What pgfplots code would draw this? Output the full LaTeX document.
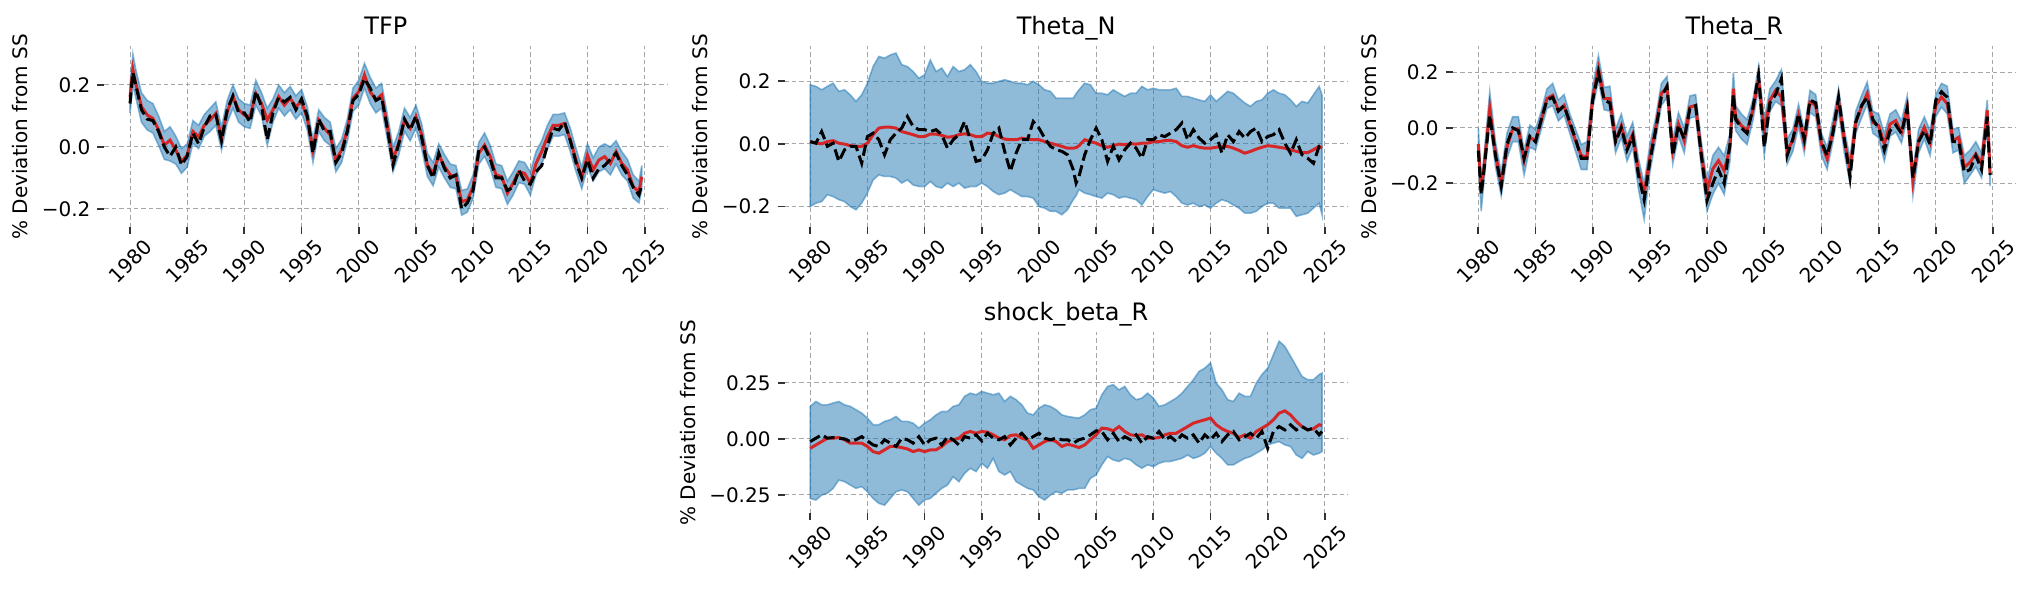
\documentclass[border=0pt]{standalone}
\usepackage{fontspec}
\setmainfont{DejaVu Sans}
\usepackage{pgfplots}
\pgfplotsset{compat=1.18}
\usepackage{pgfplotstable}
\definecolor{C0}{HTML}{1F77B4}
\definecolor{C3}{HTML}{D62728}

% ---------- TFP ----------
\pgfplotstableread{
t y
1980.0 0.20
1980.25 0.30
1980.5 0.25
1981.0 0.175
1981.5 0.15
1982.0 0.14
1982.5 0.10
1983.0 0.05
1983.5 0.065
1984.0 0.035
1984.5 -0.005
1985.0 0.01
1985.5 0.085
1986.0 0.07
1986.5 0.105
1987.0 0.125
1987.5 0.145
1988.0 0.065
1988.5 0.15
1989.0 0.20
1989.5 0.155
1990.0 0.14
1990.5 0.135
1991.0 0.215
1991.5 0.175
1992.0 0.125
1992.5 0.155
1993.0 0.20
1993.5 0.175
1994.0 0.195
1994.5 0.165
1995.0 0.185
1995.5 0.13
1996.0 0.025
1996.5 0.12
1997.0 0.095
1997.5 0.08
1998.0 -0.005
1998.5 0.025
1999.0 0.09
1999.5 0.19
2000.0 0.215
2000.5 0.27
2001.0 0.225
2001.5 0.19
2002.0 0.205
2002.5 0.105
2003.0 0.0
2003.5 0.05
2004.0 0.125
2004.5 0.095
2005.0 0.135
2005.5 0.075
2006.0 -0.02
2006.5 -0.05
2007.0 0.01
2007.5 -0.025
2008.0 -0.055
2008.5 -0.06
2009.0 -0.14
2009.5 -0.135
2010.0 -0.09
2010.5 0.015
2011.0 0.045
2011.5 0.005
2012.0 -0.055
2012.5 -0.06
2013.0 -0.11
2013.5 -0.08
2014.0 -0.045
2014.5 -0.05
2015.0 -0.08
2015.5 -0.015
2016.0 0.02
2016.5 0.07
2017.0 0.105
2017.5 0.105
2018.0 0.11
2018.5 0.06
2019.0 -0.005
2019.5 -0.065
2020.0 0.01
2020.5 -0.035
2021.0 0.0
2021.5 0.01
2022.0 0.0
2022.5 0.02
2023.0 -0.015
2023.5 -0.04
2024.0 -0.09
2024.5 -0.11
2024.75 -0.06
2024.75 -0.14
2024.5 -0.18
2024.0 -0.165
2023.5 -0.11
2023.0 -0.09
2022.5 -0.055
2022.0 -0.09
2021.5 -0.07
2021.0 -0.08
2020.5 -0.11
2020.0 -0.065
2019.5 -0.135
2019.0 -0.08
2018.5 -0.015
2018.0 0.04
2017.5 0.035
2017.0 0.035
2016.5 -0.005
2016.0 -0.055
2015.5 -0.09
2015.0 -0.155
2014.5 -0.12
2014.0 -0.115
2013.5 -0.155
2013.0 -0.185
2012.5 -0.135
2012.0 -0.13
2011.5 -0.07
2011.0 -0.03
2010.5 -0.055
2010.0 -0.165
2009.5 -0.21
2009.0 -0.22
2008.5 -0.135
2008.0 -0.13
2007.5 -0.10
2007.0 -0.065
2006.5 -0.125
2006.0 -0.095
2005.5 -0.005
2005.0 0.06
2004.5 0.02
2004.0 0.05
2003.5 -0.025
2003.0 -0.08
2002.5 0.025
2002.0 0.125
2001.5 0.11
2001.0 0.14
2000.5 0.19
2000.0 0.135
1999.5 0.115
1999.0 0.018
1998.5 -0.05
1998.0 -0.08
1997.5 0.005
1997.0 0.02
1996.5 0.05
1996.0 -0.05
1995.5 0.055
1995.0 0.11
1994.5 0.09
1994.0 0.12
1993.5 0.10
1993.0 0.125
1992.5 0.08
1992.0 0.005
1991.5 0.10
1991.0 0.135
1990.5 0.06
1990.0 0.065
1989.5 0.08
1989.0 0.125
1988.5 0.078
1988.0 -0.01
1987.5 0.07
1987.0 0.05
1986.5 0.035
1986.0 -0.005
1985.5 0.012
1985.0 -0.065
1984.5 -0.085
1984.0 -0.055
1983.5 -0.045
1983.0 -0.04
1982.5 0.005
1982.0 0.045
1981.5 0.055
1981.0 0.08
1980.5 0.16
1980.25 0.20
1980.0 0.11
}\tfpband

\pgfplotstableread{
t m d
1980.0 0.16 0.14
1980.25 0.25 0.24
1980.5 0.205 0.20
1981.0 0.13 0.12
1981.5 0.103 0.09
1982.0 0.092 0.085
1982.5 0.055 0.05
1983.0 0.006 0.0
1983.5 0.022 -0.03
1984.0 -0.01 0.0
1984.5 -0.047 -0.058
1985.0 -0.026 -0.03
1985.5 0.05 0.045
1986.0 0.033 0.01
1986.5 0.07 0.065
1987.0 0.087 0.10
1987.5 0.108 0.105
1988.0 0.028 0.02
1988.5 0.114 0.12
1989.0 0.162 0.165
1989.5 0.12 0.11
1990.0 0.103 0.11
1990.5 0.098 0.08
1991.0 0.173 0.18
1991.5 0.14 0.13
1992.0 0.087 0.023
1992.5 0.12 0.11
1993.0 0.162 0.16
1993.5 0.135 0.145
1994.0 0.157 0.16
1994.5 0.13 0.12
1995.0 0.146 0.155
1995.5 0.092 0.10
1996.0 -0.01 -0.02
1996.5 0.087 0.09
1997.0 0.06 0.05
1997.5 0.039 0.05
1998.0 -0.042 -0.05
1998.5 -0.01 -0.02
1999.0 0.055 0.05
1999.5 0.157 0.15
2000.0 0.178 0.17
2000.5 0.232 0.22
2001.0 0.178 0.19
2001.5 0.152 0.15
2002.0 0.168 0.16
2002.5 0.066 0.06
2003.0 -0.04 -0.058
2003.5 0.012 0.01
2004.0 0.087 0.09
2004.5 0.06 0.055
2005.0 0.098 0.10
2005.5 0.039 0.03
2006.0 -0.058 -0.06
2006.5 -0.085 -0.10
2007.0 -0.026 -0.02
2007.5 -0.063 -0.07
2008.0 -0.09 -0.10
2008.5 -0.096 -0.09
2009.0 -0.176 -0.20
2009.5 -0.171 -0.18
2010.0 -0.128 -0.14
2010.5 -0.02 -0.01
2011.0 0.006 0.0
2011.5 -0.031 -0.04
2012.0 -0.09 -0.10
2012.5 -0.096 -0.10
2013.0 -0.149 -0.14
2013.5 -0.117 -0.13
2014.0 -0.08 -0.075
2014.5 -0.085 -0.11
2015.0 -0.117 -0.12
2015.5 -0.053 -0.08
2016.0 -0.015 -0.06
2016.5 0.033 0.005
2017.0 0.07 0.06
2017.5 0.07 0.055
2018.0 0.076 0.08
2018.5 0.023 0.02
2019.0 -0.042 -0.05
2019.5 -0.10 -0.10
2020.0 -0.026 -0.04
2020.5 -0.074 -0.10
2021.0 -0.042 -0.07
2021.5 -0.031 -0.06
2022.0 -0.053 -0.04
2022.5 -0.015 -0.02
2023.0 -0.053 -0.06
2023.5 -0.074 -0.09
2024.0 -0.128 -0.13
2024.5 -0.144 -0.155
2024.75 -0.096 -0.12
}\tfpline

% ---------- Theta_N ----------
\pgfplotstableread{
t y
1980.0 0.188
1980.5 0.183
1981.0 0.172
1981.5 0.183
1982.0 0.193
1982.5 0.167
1983.0 0.172
1983.5 0.156
1984.0 0.135
1984.5 0.156
1985.0 0.193
1985.5 0.246
1986.0 0.278
1986.5 0.273
1987.0 0.283
1987.5 0.289
1988.0 0.252
1988.5 0.246
1989.0 0.230
1989.5 0.209
1990.0 0.220
1990.5 0.267
1991.0 0.230
1991.5 0.241
1992.0 0.214
1992.5 0.246
1993.0 0.230
1993.5 0.236
1994.0 0.252
1994.5 0.230
1995.0 0.199
1995.5 0.193
1996.0 0.193
1996.5 0.199
1997.0 0.204
1997.5 0.199
1998.0 0.193
1998.5 0.193
1999.0 0.188
1999.5 0.199
2000.0 0.188
2000.5 0.172
2001.0 0.167
2001.5 0.145
2002.0 0.145
2002.5 0.145
2003.0 0.145
2003.25 0.160
2003.5 0.172
2004.0 0.193
2004.5 0.188
2005.0 0.161
2005.5 0.161
2006.0 0.156
2006.5 0.172
2007.0 0.161
2007.5 0.151
2008.0 0.161
2008.5 0.161
2009.0 0.183
2009.5 0.172
2010.0 0.177
2010.5 0.172
2011.0 0.172
2011.5 0.172
2012.0 0.177
2012.5 0.151
2013.0 0.151
2013.5 0.145
2014.0 0.140
2014.5 0.135
2015.0 0.156
2015.5 0.135
2016.0 0.151
2016.5 0.167
2017.0 0.161
2017.5 0.145
2018.0 0.130
2018.5 0.119
2019.0 0.135
2019.5 0.140
2020.0 0.161
2020.5 0.172
2021.0 0.161
2021.5 0.156
2022.0 0.140
2022.5 0.119
2023.0 0.135
2023.5 0.130
2024.0 0.156
2024.5 0.183
2024.75 0.156
2024.75 -0.226
2024.5 -0.189
2024.0 -0.205
2023.5 -0.221
2023.0 -0.226
2022.5 -0.231
2022.0 -0.205
2021.5 -0.205
2021.0 -0.205
2020.5 -0.189
2020.0 -0.189
2019.5 -0.200
2019.0 -0.215
2018.5 -0.221
2018.0 -0.221
2017.5 -0.205
2017.0 -0.195
2016.5 -0.184
2016.0 -0.178
2015.5 -0.189
2015.0 -0.205
2014.5 -0.195
2014.0 -0.200
2013.5 -0.189
2013.0 -0.195
2012.5 -0.189
2012.0 -0.168
2011.5 -0.152
2011.0 -0.157
2010.5 -0.152
2010.0 -0.146
2009.5 -0.168
2009.0 -0.195
2008.5 -0.178
2008.0 -0.173
2007.5 -0.168
2007.0 -0.173
2006.5 -0.162
2006.0 -0.157
2005.5 -0.173
2005.0 -0.168
2004.5 -0.162
2004.0 -0.157
2003.5 -0.146
2003.25 -0.165
2003.0 -0.178
2002.5 -0.210
2002.0 -0.226
2001.5 -0.215
2001.0 -0.215
2000.5 -0.205
2000.0 -0.200
1999.5 -0.173
1999.0 -0.168
1998.5 -0.168
1998.0 -0.157
1997.5 -0.146
1997.0 -0.157
1996.5 -0.162
1996.0 -0.152
1995.5 -0.136
1995.0 -0.125
1994.5 -0.136
1994.0 -0.136
1993.5 -0.141
1993.0 -0.125
1992.5 -0.136
1992.0 -0.125
1991.5 -0.141
1991.0 -0.136
1990.5 -0.120
1990.0 -0.136
1989.5 -0.136
1989.0 -0.131
1988.5 -0.115
1988.0 -0.125
1987.5 -0.109
1987.0 -0.104
1986.5 -0.104
1986.0 -0.099
1985.5 -0.115
1985.0 -0.157
1984.5 -0.189
1984.0 -0.210
1983.5 -0.200
1983.0 -0.184
1982.5 -0.178
1982.0 -0.168
1981.5 -0.162
1981.0 -0.184
1980.5 -0.189
1980.0 -0.200
}\thetanband

\pgfplotstableread{
t m d
1980.0 0.007 0.007
1980.5 0.002 0.002
1981.0 0.000 0.039
1981.5 0.007 -0.008
1982.0 0.010 0.002
1982.5 0.002 -0.056
1983.0 -0.001 -0.019
1983.5 -0.006 -0.008
1984.0 -0.008 -0.008
1984.5 -0.008 -0.062
1985.0 0.002 0.023
1985.5 0.029 0.034
1986.0 0.050 0.013
1986.5 0.053 -0.035
1987.0 0.053 0.013
1987.5 0.050 0.034
1988.0 0.039 0.050
1988.5 0.034 0.087
1989.0 0.029 0.055
1989.5 0.023 0.045
1990.0 0.023 0.045
1990.5 0.031 0.039
1991.0 0.031 0.045
1991.5 0.027 0.029
1992.0 0.021 -0.014
1992.5 0.023 0.013
1993.0 0.029 0.029
1993.5 0.032 0.071
1994.0 0.029 0.013
1994.5 0.023 -0.056
1995.0 0.023 -0.051
1995.5 0.034 -0.019
1996.0 0.032 0.034
1996.5 0.023 0.050
1997.0 0.015 -0.024
1997.5 0.013 -0.088
1998.0 0.013 -0.030
1998.5 0.018 0.013
1999.0 0.015 0.013
1999.5 0.013 0.071
2000.0 0.013 0.050
2000.5 0.007 0.018
2001.0 0.002 -0.008
2001.5 -0.003 -0.019
2002.0 -0.008 -0.024
2002.5 -0.014 -0.035
2003.0 -0.014 -0.083
2003.25 -0.012 -0.125
2003.5 -0.006 -0.104
2004.0 0.013 -0.035
2004.5 0.007 0.013
2005.0 0.002 0.050
2005.5 -0.006 0.013
2006.0 -0.011 -0.056
2006.5 -0.006 -0.008
2007.0 -0.001 -0.051
2007.5 -0.003 -0.019
2008.0 0.000 0.002
2008.5 -0.001 -0.014
2009.0 0.002 -0.046
2009.5 0.002 0.013
2010.0 0.007 0.013
2010.5 0.007 0.029
2011.0 0.010 0.023
2011.5 0.011 0.034
2012.0 0.007 0.045
2012.5 -0.006 0.066
2013.0 -0.011 0.013
2013.5 -0.006 0.045
2014.0 -0.011 0.018
2014.5 -0.014 0.002
2015.0 -0.014 0.013
2015.5 -0.011 0.029
2016.0 -0.008 -0.030
2016.5 -0.008 0.029
2017.0 -0.014 0.007
2017.5 -0.021 0.039
2018.0 -0.030 0.018
2018.5 -0.024 0.039
2019.0 -0.017 0.050
2019.5 -0.011 0.007
2020.0 -0.006 0.023
2020.5 -0.008 0.029
2021.0 -0.011 0.045
2021.5 -0.014 0.002
2022.0 -0.019 -0.030
2022.5 -0.024 0.013
2023.0 -0.028 -0.035
2023.5 -0.028 -0.046
2024.0 -0.019 -0.062
2024.5 -0.008 -0.008
2024.75 -0.014 -0.003
}\thetanline

% ---------- Theta_R ----------
\pgfplotstableread{
t y
1980.0 0.0
1980.25 -0.19
1980.5 -0.10
1981.0 0.13
1981.5 -0.05
1982.0 -0.16
1982.5 -0.02
1983.0 0.04
1983.5 0.04
1984.0 -0.08
1984.5 0.01
1985.0 -0.005
1985.5 0.06
1986.0 0.14
1986.5 0.16
1987.0 0.10
1987.5 0.12
1988.0 0.05
1988.5 -0.005
1989.0 -0.06
1989.5 -0.05
1990.0 0.15
1990.5 0.26
1991.0 0.145
1991.5 0.15
1992.0 -0.005
1992.5 0.05
1993.0 -0.03
1993.5 0.02
1994.0 -0.11
1994.5 -0.20
1995.0 -0.06
1995.5 0.035
1996.0 0.16
1996.5 0.185
1997.0 -0.04
1997.5 0.055
1998.0 0.0
1998.5 0.115
1999.0 0.12
1999.5 -0.05
2000.0 -0.19
2000.5 -0.10
2001.0 -0.07
2001.5 -0.10
2002.0 -0.02
2002.3 0.20
2002.5 0.08
2003.0 0.05
2003.5 0.03
2004.0 0.10
2004.5 0.22
2005.0 0.03
2005.5 0.14
2006.0 0.17
2006.5 0.21
2007.0 -0.04
2007.5 -0.005
2008.0 0.085
2008.5 -0.01
2009.0 0.135
2009.5 0.12
2010.0 -0.02
2010.5 -0.07
2011.0 0.03
2011.5 0.14
2012.0 -0.005
2012.5 -0.11
2013.0 0.06
2013.5 0.115
2014.0 0.165
2014.5 0.06
2015.0 0.05
2015.5 -0.02
2016.0 0.05
2016.5 0.065
2017.0 0.025
2017.5 0.115
2018.0 -0.15
2018.5 -0.005
2019.0 0.04
2019.5 -0.01
2020.0 0.12
2020.5 0.16
2021.0 0.15
2021.5 -0.005
2022.0 0.0
2022.5 -0.10
2023.0 -0.08
2023.5 -0.05
2024.0 -0.09
2024.5 0.10
2024.75 -0.13
2024.75 -0.21
2024.5 0.0
2024.0 -0.18
2023.5 -0.14
2023.0 -0.17
2022.5 -0.20
2022.0 -0.08
2021.5 -0.09
2021.0 0.05
2020.5 0.075
2020.0 0.04
2019.5 -0.10
2019.0 -0.04
2018.5 -0.09
2018.0 -0.245
2017.5 0.035
2017.0 -0.055
2016.5 -0.015
2016.0 -0.03
2015.5 -0.12
2015.0 -0.035
2014.5 -0.02
2014.0 0.085
2013.5 0.035
2013.0 -0.02
2012.5 -0.20
2012.0 -0.09
2011.5 0.06
2011.0 -0.05
2010.5 -0.15
2010.0 -0.10
2009.5 0.04
2009.0 0.055
2008.5 -0.09
2008.0 0.005
2007.5 -0.085
2007.0 -0.13
2006.5 0.08
2006.0 0.095
2005.5 0.06
2005.0 -0.10
2004.5 0.14
2004.0 0.025
2003.5 -0.06
2003.0 -0.04
2002.5 -0.01
2002.3 0.08
2002.0 -0.12
2001.5 -0.24
2001.0 -0.20
2000.5 -0.24
2000.0 -0.30
1999.5 -0.14
1999.0 0.04
1998.5 0.035
1998.0 -0.09
1997.5 -0.03
1997.0 -0.13
1996.5 0.11
1996.0 0.08
1995.5 -0.045
1995.0 -0.16
1994.5 -0.33
1994.0 -0.22
1993.5 -0.07
1993.0 -0.12
1992.5 -0.035
1992.0 -0.09
1991.5 0.06
1991.0 0.065
1990.5 0.17
1990.0 0.07
1989.5 -0.15
1989.0 -0.15
1988.5 -0.085
1988.0 -0.02
1987.5 0.045
1987.0 0.025
1986.5 0.08
1986.0 0.07
1985.5 -0.005
1985.0 -0.08
1984.5 -0.07
1984.0 -0.17
1983.5 -0.05
1983.0 -0.05
1982.5 -0.11
1982.0 -0.245
1981.5 -0.14
1981.0 0.02
1980.5 -0.19
1980.25 -0.30
1980.0 -0.11
}\thetarband

\pgfplotstableread{
t m d
1980.0 -0.058 -0.082
1980.25 -0.226 -0.24
1980.5 -0.142 -0.15
1981.0 0.07 0.045
1981.5 -0.094 -0.10
1982.0 -0.202 -0.21
1982.5 -0.07 -0.06
1983.0 -0.004 0.0
1983.5 -0.004 -0.01
1984.0 -0.118 -0.11
1984.5 -0.034 -0.03
1985.0 -0.046 -0.05
1985.5 0.026 0.03
1986.0 0.105 0.10
1986.5 0.117 0.11
1987.0 0.063 0.06
1987.5 0.081 0.08
1988.0 0.014 0.02
1988.5 -0.046 -0.04
1989.0 -0.10 -0.11
1989.5 -0.106 -0.11
1990.0 0.111 0.10
1990.5 0.213 0.20
1991.0 0.105 0.10
1991.5 0.105 0.09
1992.0 -0.046 -0.05
1992.5 0.008 0.0
1993.0 -0.07 -0.08
1993.5 -0.022 -0.03
1994.0 -0.154 -0.17
1994.5 -0.238 -0.26
1995.0 -0.106 -0.12
1995.5 -0.004 -0.01
1996.0 0.123 0.11
1996.5 0.147 0.15
1997.0 -0.082 -0.10
1997.5 0.014 0.01
1998.0 -0.046 -0.04
1998.5 0.075 0.07
1999.0 0.081 0.08
1999.5 -0.094 -0.10
2000.0 -0.226 -0.262
2000.5 -0.148 -0.20
2001.0 -0.118 -0.15
2001.5 -0.154 -0.20
2002.0 -0.07 -0.06
2002.3 0.141 0.12
2002.5 0.038 0.03
2003.0 0.008 0.0
2003.5 -0.01 -0.02
2004.0 0.063 0.07
2004.5 0.177 0.19
2005.0 -0.01 -0.07
2005.5 0.099 0.09
2006.0 0.135 0.12
2006.5 0.111 0.177
2007.0 -0.082 -0.10
2007.5 -0.046 -0.04
2008.0 0.044 0.05
2008.5 -0.052 -0.04
2009.0 0.093 0.10
2009.5 0.081 0.09
2010.0 -0.058 -0.05
2010.5 -0.112 -0.10
2011.0 -0.01 -0.02
2011.5 0.099 0.11
2012.0 -0.046 -0.04
2012.5 -0.148 -0.178
2013.0 0.02 0.02
2013.5 0.075 0.08
2014.0 0.123 0.11
2014.5 0.02 0.03
2015.0 0.008 0.0
2015.5 -0.058 -0.08
2016.0 0.014 -0.01
2016.5 0.026 0.01
2017.0 -0.016 -0.02
2017.5 0.075 0.07
2018.0 -0.19 -0.18
2018.5 -0.046 -0.05
2019.0 0.002 -0.01
2019.5 -0.052 -0.06
2020.0 0.081 0.10
2020.5 0.111 0.13
2021.0 0.087 0.11
2021.5 -0.046 -0.05
2022.0 -0.034 -0.05
2022.5 -0.142 -0.16
2023.0 -0.124 -0.15
2023.5 -0.094 -0.10
2024.0 -0.13 -0.15
2024.5 0.063 0.04
2024.75 -0.166 -0.17
}\thetarline

% ---------- shock_beta_R ----------
\pgfplotstableread{
t y
1980.0 0.145
1980.5 0.167
1981.0 0.152
1981.5 0.152
1982.0 0.160
1982.5 0.167
1983.0 0.152
1983.5 0.145
1984.0 0.130
1984.5 0.115
1985.0 0.093
1985.5 0.063
1986.0 0.063
1986.5 0.078
1987.0 0.085
1987.5 0.100
1988.0 0.078
1988.5 0.078
1989.0 0.070
1989.5 0.048
1990.0 0.070
1990.5 0.085
1991.0 0.107
1991.5 0.122
1992.0 0.122
1992.5 0.145
1993.0 0.152
1993.5 0.190
1994.0 0.204
1994.5 0.197
1995.0 0.212
1995.5 0.204
1996.0 0.197
1996.5 0.204
1997.0 0.167
1997.5 0.190
1998.0 0.175
1998.5 0.152
1999.0 0.115
1999.5 0.107
2000.0 0.137
2000.5 0.152
2001.0 0.145
2001.5 0.130
2002.0 0.107
2002.5 0.100
2003.0 0.096
2003.5 0.093
2004.0 0.107
2004.5 0.130
2005.0 0.137
2005.5 0.197
2006.0 0.234
2006.5 0.242
2007.0 0.219
2007.5 0.234
2008.0 0.197
2008.5 0.175
2009.0 0.182
2009.5 0.204
2010.0 0.182
2010.5 0.145
2011.0 0.152
2011.5 0.167
2012.0 0.182
2012.5 0.204
2013.0 0.234
2013.5 0.264
2014.0 0.301
2014.5 0.316
2015.0 0.339
2015.5 0.249
2016.0 0.219
2016.5 0.175
2017.0 0.167
2017.5 0.204
2018.0 0.190
2018.5 0.190
2019.0 0.249
2019.5 0.287
2020.0 0.316
2020.5 0.376
2021.0 0.436
2021.5 0.413
2022.0 0.369
2022.5 0.324
2023.0 0.279
2023.5 0.264
2024.0 0.264
2024.5 0.287
2024.75 0.294
2024.75 -0.057
2024.5 -0.064
2024.0 -0.072
2023.5 -0.057
2023.0 -0.087
2022.5 -0.072
2022.0 -0.034
2021.5 -0.027
2021.0 -0.012
2020.5 -0.019
2020.0 -0.027
2019.5 -0.049
2019.0 -0.064
2018.5 -0.079
2018.0 -0.087
2017.5 -0.101
2017.0 -0.116
2016.5 -0.116
2016.0 -0.087
2015.5 -0.064
2015.0 -0.034
2014.5 -0.064
2014.0 -0.079
2013.5 -0.087
2013.0 -0.072
2012.5 -0.087
2012.0 -0.094
2011.5 -0.101
2011.0 -0.101
2010.5 -0.109
2010.0 -0.124
2009.5 -0.116
2009.0 -0.131
2008.5 -0.116
2008.0 -0.094
2007.5 -0.087
2007.0 -0.101
2006.5 -0.094
2006.0 -0.079
2005.5 -0.116
2005.0 -0.161
2004.5 -0.176
2004.0 -0.221
2003.5 -0.221
2003.0 -0.228
2002.5 -0.228
2002.0 -0.243
2001.5 -0.236
2001.0 -0.251
2000.5 -0.273
2000.0 -0.258
1999.5 -0.228
1999.0 -0.221
1998.5 -0.206
1998.0 -0.191
1997.5 -0.146
1997.0 -0.161
1996.5 -0.146
1996.0 -0.087
1995.5 -0.131
1995.0 -0.109
1994.5 -0.146
1994.0 -0.131
1993.5 -0.154
1993.0 -0.191
1992.5 -0.169
1992.0 -0.206
1991.5 -0.221
1991.0 -0.243
1990.5 -0.266
1990.0 -0.273
1989.5 -0.296
1989.0 -0.266
1988.5 -0.236
1988.0 -0.228
1987.5 -0.236
1987.0 -0.266
1986.5 -0.296
1986.0 -0.288
1985.5 -0.266
1985.0 -0.236
1984.5 -0.213
1984.0 -0.221
1983.5 -0.206
1983.0 -0.191
1982.5 -0.184
1982.0 -0.221
1981.5 -0.243
1981.0 -0.251
1980.5 -0.273
1980.0 -0.266
}\shockband

\pgfplotstableread{
t m d
1980.0 -0.042 -0.012
1980.5 -0.027 0.003
1981.0 -0.012 0.018
1981.5 0.003 0.003
1982.0 0.003 0.006
1982.5 0.006 0.003
1983.0 -0.004 0.000
1983.5 -0.019 -0.012
1984.0 -0.019 -0.004
1984.5 -0.019 0.010
1985.0 -0.034 -0.009
1985.5 -0.057 -0.027
1986.0 -0.064 -0.034
1986.5 -0.049 -0.004
1987.0 -0.034 -0.019
1987.5 -0.034 -0.034
1988.0 -0.039 0.003
1988.5 -0.045 -0.004
1989.0 -0.057 -0.019
1989.5 -0.049 0.010
1990.0 -0.057 -0.027
1990.5 -0.049 -0.004
1991.0 -0.049 0.003
1991.5 -0.034 -0.027
1992.0 -0.012 0.010
1992.5 -0.004 -0.004
1993.0 0.003 -0.027
1993.5 0.025 0.010
1994.0 0.033 0.003
1994.5 0.025 0.018
1995.0 0.033 -0.009
1995.5 0.030 0.025
1996.0 0.018 0.003
1996.5 0.003 -0.004
1997.0 -0.004 0.010
1997.5 0.015 -0.027
1998.0 0.018 0.003
1998.5 0.003 0.025
1999.0 -0.004 -0.004
1999.5 -0.042 0.010
2000.0 -0.027 0.025
2000.5 -0.012 0.003
2001.0 -0.004 -0.004
2001.5 -0.012 0.003
2002.0 -0.034 -0.004
2002.5 -0.024 -0.004
2003.0 -0.030 -0.019
2003.5 -0.039 -0.004
2004.0 -0.027 0.003
2004.5 -0.004 0.018
2005.0 0.018 0.036
2005.5 0.048 0.033
2006.0 0.045 -0.004
2006.5 0.036 0.025
2007.0 0.055 -0.012
2007.5 0.033 0.010
2008.0 0.018 -0.004
2008.5 0.015 0.018
2009.0 0.018 -0.019
2009.5 0.003 0.010
2010.0 0.003 0.003
2010.5 0.006 0.033
2011.0 0.018 -0.004
2011.5 0.025 0.010
2012.0 0.025 -0.012
2012.5 0.040 0.018
2013.0 0.055 0.003
2013.5 0.070 0.018
2014.0 0.078 -0.019
2014.5 0.085 0.018
2015.0 0.093 -0.004
2015.5 0.063 0.025
2016.0 0.045 -0.012
2016.5 0.033 0.018
2017.0 0.025 0.033
2017.5 0.006 -0.004
2018.0 0.018 0.010
2018.5 0.003 0.025
2019.0 0.033 0.003
2019.5 0.048 0.033
2020.0 0.063 -0.042
2020.5 0.085 0.033
2021.0 0.115 0.055
2021.5 0.125 0.040
2022.0 0.107 0.063
2022.5 0.078 0.040
2023.0 0.055 0.055
2023.5 0.040 0.040
2024.0 0.045 0.048
2024.5 0.063 0.018
2024.75 0.060 0.033
}\shockline

\pgfplotsset{
  ppanel/.style={
    scale only axis, width=281.5pt, height=90.25pt,
    anchor=south west,
    xmin=1977.76, xmax=2026.99,
    axis line style={draw=none},
    tick align=outside, xtick pos=left, ytick pos=left,
    major tick length=3.5pt,
    tick style={draw=black!80, line width=0.9pt},
    xmajorgrids, ymajorgrids,
    major grid style={draw=black!35, line width=0.5pt, dash pattern=on 2.2pt off 1.5pt},
    xtick={1980,1985,1990,1995,2000,2005,2010,2015,2020,2025},
    xticklabels={1980,1985,1990,1995,2000,2005,2010,2015,2020,2025},
    xticklabel style={yshift=-13.5pt, rotate=45, anchor=center, font=\fontsize{10}{12}\selectfont},
    yticklabel style={font=\fontsize{10}{12}\selectfont},
    title style={font=\fontsize{12}{14}\selectfont, anchor=base},
    ylabel={\% Deviation from SS},
    ylabel style={font=\fontsize{10}{12}\selectfont},
  },
  pband/.style={fill=C0, fill opacity=0.5, draw=C0, draw opacity=0.5, line width=0.8pt},
  pmean/.style={C3, line width=1.5pt},
  pdata/.style={black, line width=1.5pt, dash pattern=on 5.55pt off 2.4pt},
}

\begin{document}
\begin{tikzpicture}
\useasboundingbox (0,0) rectangle (1016pt,296pt);

\begin{axis}[ppanel, at={(52.2pt,182.5pt)}, title={TFP},
  ymin=-0.258, ymax=0.324, ytick={-0.2,0,0.2}, yticklabels={−0.2,0.0,0.2}]
\addplot[pband] table[x=t,y=y]{\tfpband} -- cycle;
\addplot[pmean] table[x=t,y=m]{\tfpline};
\addplot[pdata] table[x=t,y=d]{\tfpline};
\end{axis}

\begin{axis}[ppanel, at={(392.3pt,182.5pt)}, title={Theta\_N},
  ymin=-0.265, ymax=0.31, ytick={-0.2,0,0.2}, yticklabels={−0.2,0.0,0.2}]
\addplot[pband] table[x=t,y=y]{\thetanband} -- cycle;
\addplot[pmean] table[x=t,y=m]{\thetanline};
\addplot[pdata] table[x=t,y=d]{\thetanline};
\end{axis}

\begin{axis}[ppanel, at={(726.35pt,182.5pt)}, title={Theta\_R},
  ymin=-0.357, ymax=0.293, ytick={-0.2,0,0.2}, yticklabels={−0.2,0.0,0.2}]
\addplot[pband] table[x=t,y=y]{\thetarband} -- cycle;
\addplot[pmean] table[x=t,y=m]{\thetarline};
\addplot[pdata] table[x=t,y=d]{\thetarline};
\end{axis}

\begin{axis}[ppanel, at={(392.3pt,39.5pt)}, title={shock\_beta\_R},
  ymin=-0.331, ymax=0.475, ytick={-0.25,0,0.25}, yticklabels={−0.25,0.00,0.25}]
\addplot[pband] table[x=t,y=y]{\shockband} -- cycle;
\addplot[pmean] table[x=t,y=m]{\shockline};
\addplot[pdata] table[x=t,y=d]{\shockline};
\end{axis}
\end{tikzpicture}
\end{document}
